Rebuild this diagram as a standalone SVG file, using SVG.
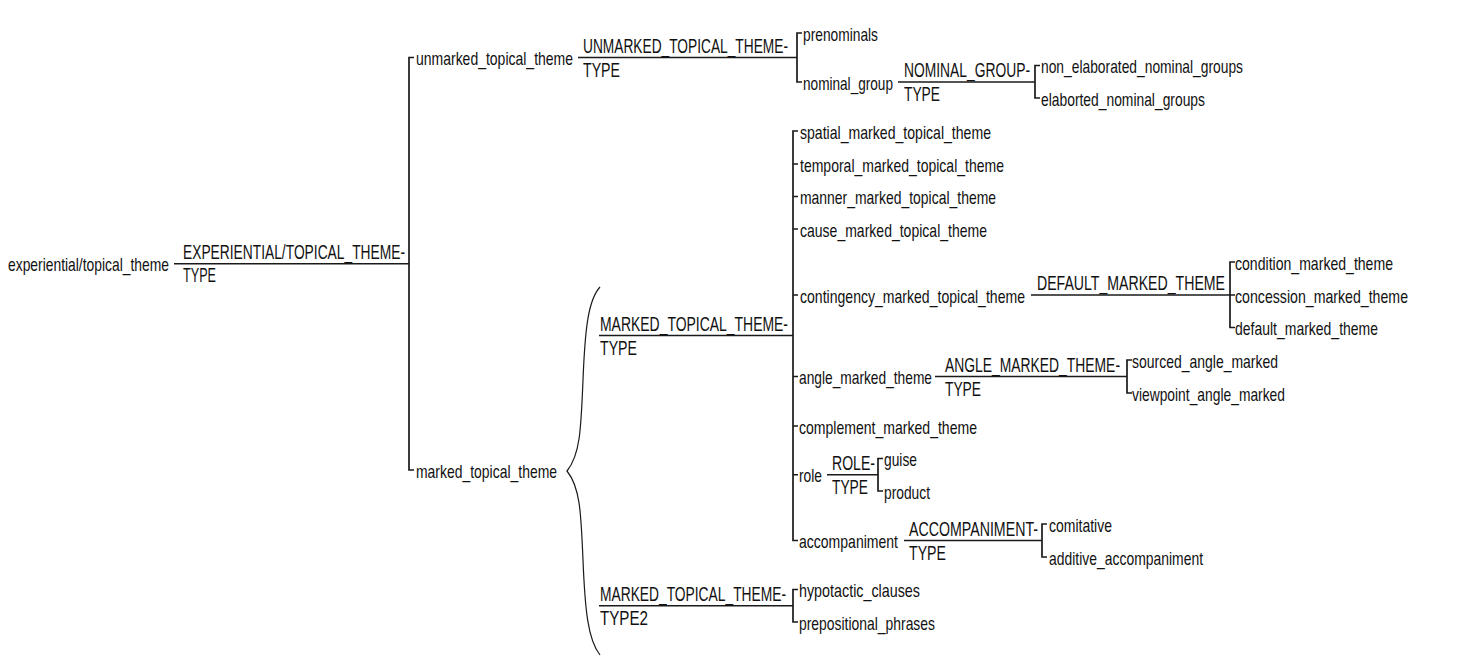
<svg xmlns="http://www.w3.org/2000/svg" width="1461" height="657" viewBox="0 0 1461 657">
<style>
text{font-family:"Liberation Sans Narrow","Liberation Sans",Arial,sans-serif;fill:#111;}
.l{font-size:19px;}
.t{font-size:20px;}
.c{fill:none;stroke:#1a1a1a;stroke-width:1.7;}
.b{fill:none;stroke:#1a1a1a;stroke-width:1.2;}
</style>
<rect width="1461" height="657" fill="#fff"/>
<g id="connectors">
<path class="c" d="M174,263.75 H409"/>
<path class="c" d="M414,57.5 H409 V470 H414"/>
<path class="c" d="M578,57.5 H797"/>
<path class="c" d="M802,33 H797 V82 H802"/>
<path class="c" d="M898,82 H1035"/>
<path class="c" d="M1040,65.5 H1035 V98 H1040"/>
<path class="c" d="M599,335.5 H793"/>
<path class="c" d="M798,131 H793 V540.5 H798 M793,164 h5 M793,196.5 h5 M793,229 h5 M793,295 h5 M793,376.5 h5 M793,426 h5 M793,474.75 h5"/>
<path class="c" d="M1031,295 H1235"/>
<path class="c" d="M1235,262 H1230 V327.5 H1235"/>
<path class="c" d="M935,376.5 H1127"/>
<path class="c" d="M1132,360 H1127 V393 H1132"/>
<path class="c" d="M827,474.75 H878"/>
<path class="c" d="M883,458.5 H878 V491 H883"/>
<path class="c" d="M904,540.5 H1042"/>
<path class="c" d="M1047,524 H1042 V557 H1047"/>
<path class="c" d="M599,605.75 H793"/>
<path class="c" d="M798,589.5 H793 V622 H798"/>
<path class="b" d="M600,287 C588,300 585,330 583,380 C581,430 580,455 567,471 C580,487 581,512 583,560 C585,610 588,640 600,655"/>
</g>
<g id="n-root"><text class="l" x="8" y="271" textLength="161" lengthAdjust="spacingAndGlyphs">experiential/topical_theme</text></g>
<g id="n-root-type"><text class="t" x="183" y="258.5" textLength="222" lengthAdjust="spacingAndGlyphs">EXPERIENTIAL/TOPICAL_THEME-</text><text class="t" x="183" y="282" textLength="33" lengthAdjust="spacingAndGlyphs">TYPE</text></g>
<g id="n-unmarked"><text class="l" x="416" y="65" textLength="157" lengthAdjust="spacingAndGlyphs">unmarked_topical_theme</text></g>
<g id="n-unmarked-type"><text class="t" x="583" y="52.5" textLength="205" lengthAdjust="spacingAndGlyphs">UNMARKED_TOPICAL_THEME-</text><text class="t" x="583" y="76.5" textLength="37" lengthAdjust="spacingAndGlyphs">TYPE</text></g>
<g id="n-prenominals"><text class="l" x="803" y="40.5" textLength="75" lengthAdjust="spacingAndGlyphs">prenominals</text></g>
<g id="n-nominal-group"><text class="l" x="803" y="89.5" textLength="90" lengthAdjust="spacingAndGlyphs">nominal_group</text></g>
<g id="n-nominal-type"><text class="t" x="904" y="77" textLength="126" lengthAdjust="spacingAndGlyphs">NOMINAL_GROUP-</text><text class="t" x="904" y="101" textLength="36" lengthAdjust="spacingAndGlyphs">TYPE</text></g>
<g id="n-non-elab"><text class="l" x="1041" y="73" textLength="202" lengthAdjust="spacingAndGlyphs">non_elaborated_nominal_groups</text></g>
<g id="n-elab"><text class="l" x="1041" y="105.5" textLength="164" lengthAdjust="spacingAndGlyphs">elaborted_nominal_groups</text></g>
<g id="n-marked"><text class="l" x="416" y="477.5" textLength="141" lengthAdjust="spacingAndGlyphs">marked_topical_theme</text></g>
<g id="n-mtt-type"><text class="t" x="600" y="330.5" textLength="188" lengthAdjust="spacingAndGlyphs">MARKED_TOPICAL_THEME-</text><text class="t" x="600" y="354.5" textLength="37" lengthAdjust="spacingAndGlyphs">TYPE</text></g>
<g id="n-spatial"><text class="l" x="800" y="138.5" textLength="191" lengthAdjust="spacingAndGlyphs">spatial_marked_topical_theme</text></g>
<g id="n-temporal"><text class="l" x="800" y="171.5" textLength="204" lengthAdjust="spacingAndGlyphs">temporal_marked_topical_theme</text></g>
<g id="n-manner"><text class="l" x="800" y="204" textLength="196" lengthAdjust="spacingAndGlyphs">manner_marked_topical_theme</text></g>
<g id="n-cause"><text class="l" x="800" y="236.5" textLength="187" lengthAdjust="spacingAndGlyphs">cause_marked_topical_theme</text></g>
<g id="n-contingency"><text class="l" x="800" y="302.5" textLength="225" lengthAdjust="spacingAndGlyphs">contingency_marked_topical_theme</text></g>
<g id="n-default-type"><text class="t" x="1037" y="290" textLength="188" lengthAdjust="spacingAndGlyphs">DEFAULT_MARKED_THEME</text></g>
<g id="n-condition"><text class="l" x="1235" y="269.5" textLength="158" lengthAdjust="spacingAndGlyphs">condition_marked_theme</text></g>
<g id="n-concession"><text class="l" x="1235" y="302.5" textLength="173" lengthAdjust="spacingAndGlyphs">concession_marked_theme</text></g>
<g id="n-default"><text class="l" x="1235" y="335" textLength="143" lengthAdjust="spacingAndGlyphs">default_marked_theme</text></g>
<g id="n-angle"><text class="l" x="799" y="384" textLength="133" lengthAdjust="spacingAndGlyphs">angle_marked_theme</text></g>
<g id="n-angle-type"><text class="t" x="945" y="371.5" textLength="175" lengthAdjust="spacingAndGlyphs">ANGLE_MARKED_THEME-</text><text class="t" x="945" y="395.5" textLength="36" lengthAdjust="spacingAndGlyphs">TYPE</text></g>
<g id="n-sourced"><text class="l" x="1132" y="367.5" textLength="146" lengthAdjust="spacingAndGlyphs">sourced_angle_marked</text></g>
<g id="n-viewpoint"><text class="l" x="1132" y="400.5" textLength="153" lengthAdjust="spacingAndGlyphs">viewpoint_angle_marked</text></g>
<g id="n-complement"><text class="l" x="799" y="433.5" textLength="178" lengthAdjust="spacingAndGlyphs">complement_marked_theme</text></g>
<g id="n-role"><text class="l" x="799" y="482" textLength="23" lengthAdjust="spacingAndGlyphs">role</text></g>
<g id="n-role-type"><text class="t" x="832" y="469.75" textLength="43" lengthAdjust="spacingAndGlyphs">ROLE-</text><text class="t" x="832" y="493.75" textLength="36" lengthAdjust="spacingAndGlyphs">TYPE</text></g>
<g id="n-guise"><text class="l" x="884" y="466" textLength="33" lengthAdjust="spacingAndGlyphs">guise</text></g>
<g id="n-product"><text class="l" x="884" y="498.5" textLength="46" lengthAdjust="spacingAndGlyphs">product</text></g>
<g id="n-accompaniment"><text class="l" x="799" y="548" textLength="99" lengthAdjust="spacingAndGlyphs">accompaniment</text></g>
<g id="n-accompaniment-type"><text class="t" x="909" y="535.5" textLength="129" lengthAdjust="spacingAndGlyphs">ACCOMPANIMENT-</text><text class="t" x="909" y="559.5" textLength="37" lengthAdjust="spacingAndGlyphs">TYPE</text></g>
<g id="n-comitative"><text class="l" x="1049" y="531.5" textLength="63" lengthAdjust="spacingAndGlyphs">comitative</text></g>
<g id="n-additive"><text class="l" x="1049" y="564.5" textLength="154" lengthAdjust="spacingAndGlyphs">additive_accompaniment</text></g>
<g id="n-mtt2-type"><text class="t" x="600" y="601" textLength="186" lengthAdjust="spacingAndGlyphs">MARKED_TOPICAL_THEME-</text><text class="t" x="600" y="625" textLength="48" lengthAdjust="spacingAndGlyphs">TYPE2</text></g>
<g id="n-hypotactic"><text class="l" x="799" y="597" textLength="121" lengthAdjust="spacingAndGlyphs">hypotactic_clauses</text></g>
<g id="n-prepositional"><text class="l" x="799" y="629.5" textLength="136" lengthAdjust="spacingAndGlyphs">prepositional_phrases</text></g>
</svg>
